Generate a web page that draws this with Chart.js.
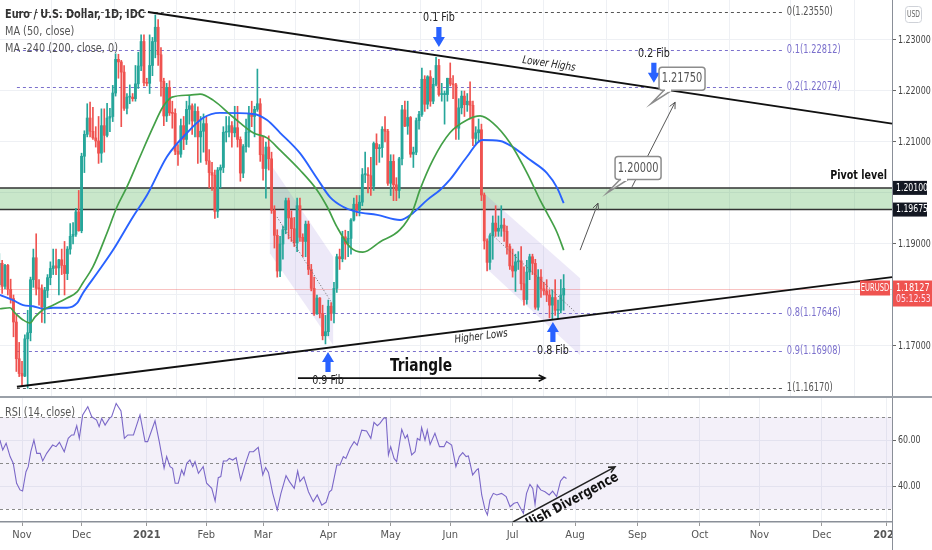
<!DOCTYPE html>
<html>
<head>
<meta charset="utf-8">
<title>EURUSD 1D</title>
<script src="https://cdn.jsdelivr.net/npm/chart.js@4.4.1/dist/chart.umd.min.js"></script>
<style>
   html, body { margin: 0; padding: 0; background: #fff; }
   #wrap { position: relative; width: 932px; height: 550px; overflow: hidden; }
   #c1 { position: absolute; left: 0; top: 0; }
   #c2 { position: absolute; left: 0; top: 398px; }
</style>
</head>
<body>
<div id="wrap">
   <canvas id="c1" width="932" height="398"></canvas>
   <canvas id="c2" width="932" height="152"></canvas>
</div>
<script>
// bar 0 = 2 Nov 2020, one bar per weekday
const firstBar = -8;
const opens = [
   1.1820,1.1862,1.1817,1.1858,1.1811,1.1793,1.1747,1.1675,1.1646,1.1641,
   1.1714,1.1726,1.1830,1.1873,1.1813,1.1812,1.1776,1.1809,1.1834,1.1852,
   1.1857,1.1853,1.1869,1.1858,1.1842,1.1890,1.1915,1.1919,1.1963,1.1926,
   1.2072,1.2115,1.2147,1.2121,1.2108,1.2102,1.2078,1.2132,1.2113,1.2147,
   1.2150,1.2196,1.2262,1.2257,1.2237,1.2166,1.2188,1.2188,1.2185,1.2214,
   1.2249,1.2297,1.2216,1.2215,1.2250,1.2297,1.2325,1.2271,1.2219,1.2151,
   1.2207,1.2157,1.2156,1.2082,1.2076,1.2132,1.2105,1.2164,1.2171,1.2141,
   1.2160,1.2110,1.2121,1.2136,1.2063,1.2040,1.2035,1.1964,1.2045,1.2050,
   1.2119,1.2120,1.2132,1.2118,1.2128,1.2105,1.2039,1.2091,1.2119,1.2155,
   1.2150,1.2164,1.2175,1.2075,1.2048,1.2090,1.2067,1.1966,1.1917,1.1847,
   1.1900,1.1928,1.1985,1.1951,1.1930,1.1902,1.1975,1.1913,1.1905,1.1939,
   1.1850,1.1813,1.1763,1.1794,1.1764,1.1720,1.1728,1.1778,1.1764,1.1813,
   1.1875,1.1871,1.1914,1.1900,1.1911,1.1947,1.1978,1.1966,1.1982,1.2036,
   1.2036,1.2034,1.2013,1.2097,1.2087,1.2089,1.2125,1.2121,1.2019,1.2062,
   1.2016,1.2005,1.2067,1.2163,1.2131,1.2148,1.2076,1.2080,1.2142,1.2154,
   1.2223,1.2174,1.2228,1.2180,1.2213,1.2250,1.2193,1.2193,1.2193,1.2225,
   1.2214,1.2212,1.2127,1.2167,1.2190,1.2173,1.2180,1.2172,1.2107,1.2118,
   1.2124,1.1996,1.1906,1.1864,1.1916,1.1941,1.1925,1.1931,1.1937,1.1925,
   1.1895,1.1857,1.1847,1.1865,1.1867,1.1822,1.1791,1.1845,1.1875,1.1862,
   1.1776,1.1835,1.1812,1.1808,1.1800,1.1780,1.1795,1.1770,1.1770,1.1800
];
const highs = [
   1.1881,1.1868,1.1860,1.1860,1.1831,1.1800,1.1760,1.1707,1.1670,1.1722,
   1.1770,1.1835,1.1890,1.1920,1.1830,1.1820,1.1815,1.1840,1.1865,1.1890,
   1.1890,1.1870,1.1890,1.1905,1.1895,1.1940,1.1942,1.1970,1.2005,1.2078,
   1.2122,1.2175,1.2178,1.2168,1.2130,1.2150,1.2165,1.2165,1.2176,1.2166,
   1.2211,1.2273,1.2272,1.2260,1.2250,1.2195,1.2212,1.2195,1.2250,1.2276,
   1.2310,1.2310,1.2225,1.2310,1.2305,1.2349,1.2340,1.2285,1.2225,1.2215,
   1.2220,1.2180,1.2165,1.2095,1.2145,1.2150,1.2180,1.2190,1.2175,1.2175,
   1.2169,1.2150,1.2155,1.2150,1.2085,1.2060,1.2045,1.2050,1.2055,1.2130,
   1.2150,1.2150,1.2140,1.2170,1.2170,1.2110,1.2095,1.2145,1.2170,1.2180,
   1.2170,1.2243,1.2185,1.2110,1.2100,1.2112,1.2080,1.1975,1.1928,1.1915,
   1.1935,1.1990,1.1990,1.1965,1.1952,1.1990,1.1990,1.1920,1.1945,1.1945,
   1.1860,1.1835,1.1800,1.1795,1.1780,1.1760,1.1790,1.1785,1.1825,1.1880,
   1.1890,1.1925,1.1927,1.1925,1.1950,1.1990,1.1995,1.1995,1.2048,1.2080,
   1.2050,1.2070,1.2100,1.2116,1.2095,1.2130,1.2150,1.2125,1.2075,1.2075,
   1.2030,1.2070,1.2172,1.2180,1.2180,1.2150,1.2090,1.2147,1.2160,1.2245,
   1.2230,1.2230,1.2240,1.2225,1.2266,1.2262,1.2215,1.2200,1.2225,1.2255,
   1.2230,1.2215,1.2185,1.2200,1.2200,1.2195,1.2218,1.2180,1.2130,1.2145,
   1.2135,1.2000,1.1910,1.1920,1.1955,1.1975,1.1955,1.1975,1.1950,1.1935,
   1.1900,1.1890,1.1880,1.1885,1.1895,1.1855,1.1868,1.1880,1.1880,1.1870,
   1.1850,1.1850,1.1825,1.1830,1.1810,1.1810,1.1830,1.1790,1.1830,1.1840
];
const lows = [
   1.1815,1.1803,1.1812,1.1800,1.1784,1.1718,1.1650,1.1640,1.1622,1.1640,
   1.1617,1.1710,1.1815,1.1800,1.1780,1.1746,1.1745,1.1795,1.1820,1.1840,
   1.1840,1.1800,1.1840,1.1800,1.1830,1.1880,1.1900,1.1915,1.1925,1.1922,
   1.2040,1.2110,1.2110,1.2105,1.2090,1.2058,1.2060,1.2080,1.2110,1.2120,
   1.2140,1.2190,1.2225,1.2130,1.2162,1.2155,1.2175,1.2180,1.2180,1.2205,
   1.2240,1.2210,1.2210,1.2195,1.2230,1.2265,1.2250,1.2190,1.2132,1.2140,
   1.2152,1.2127,1.2075,1.2054,1.2070,1.2085,1.2095,1.2135,1.2115,1.2110,
   1.2058,1.2060,1.2080,1.2056,1.2010,1.2005,1.1950,1.1952,1.2010,1.2040,
   1.2100,1.2110,1.2090,1.2110,1.2090,1.2023,1.2030,1.2080,1.2090,1.2130,
   1.2110,1.2160,1.2062,1.2025,1.1990,1.2045,1.1960,1.1892,1.1835,1.1836,
   1.1870,1.1920,1.1910,1.1905,1.1895,1.1885,1.1905,1.1875,1.1875,1.1840,
   1.1808,1.1760,1.1762,1.1755,1.1712,1.1704,1.1720,1.1750,1.1745,1.1805,
   1.1850,1.1865,1.1870,1.1875,1.1880,1.1945,1.1955,1.1955,1.1975,1.2020,
   1.2000,1.1995,1.2005,1.2055,1.2060,1.2070,1.2100,1.2015,1.1995,1.1985,
   1.1985,1.1990,1.2055,1.2130,1.2115,1.2070,1.2050,1.2075,1.2125,1.2150,
   1.2160,1.2165,1.2170,1.2175,1.2210,1.2190,1.2180,1.2135,1.2180,1.2210,
   1.2185,1.2105,1.2105,1.2155,1.2150,1.2160,1.2145,1.2093,1.2095,1.2100,
   1.1985,1.1890,1.1847,1.1850,1.1870,1.1915,1.1915,1.1915,1.1905,1.1880,
   1.1850,1.1835,1.1807,1.1850,1.1810,1.1780,1.1782,1.1830,1.1840,1.1772,
   1.1770,1.1795,1.1800,1.1787,1.1755,1.1752,1.1760,1.1754,1.1765,1.1770
];
const closes = [
   1.1862,1.1817,1.1858,1.1811,1.1793,1.1747,1.1675,1.1646,1.1641,1.1714,
   1.1726,1.1830,1.1873,1.1813,1.1812,1.1776,1.1809,1.1834,1.1852,1.1857,
   1.1853,1.1869,1.1858,1.1842,1.1890,1.1915,1.1919,1.1963,1.1926,1.2072,
   1.2115,1.2147,1.2121,1.2108,1.2102,1.2078,1.2132,1.2113,1.2147,1.2150,
   1.2196,1.2262,1.2257,1.2237,1.2166,1.2188,1.2188,1.2185,1.2214,1.2249,
   1.2297,1.2216,1.2215,1.2250,1.2297,1.2325,1.2271,1.2219,1.2151,1.2207,
   1.2157,1.2156,1.2082,1.2076,1.2132,1.2105,1.2164,1.2171,1.2141,1.2160,
   1.2110,1.2121,1.2136,1.2063,1.2040,1.2035,1.1964,1.2045,1.2050,1.2119,
   1.2120,1.2132,1.2118,1.2128,1.2105,1.2039,1.2091,1.2119,1.2155,1.2150,
   1.2164,1.2175,1.2075,1.2048,1.2090,1.2067,1.1966,1.1917,1.1847,1.1900,
   1.1928,1.1985,1.1951,1.1930,1.1902,1.1975,1.1913,1.1905,1.1939,1.1850,
   1.1813,1.1763,1.1794,1.1764,1.1720,1.1728,1.1778,1.1764,1.1813,1.1875,
   1.1871,1.1914,1.1900,1.1911,1.1947,1.1978,1.1966,1.1982,1.2036,1.2036,
   1.2034,1.2013,1.2097,1.2087,1.2089,1.2125,1.2121,1.2019,1.2062,1.2016,
   1.2005,1.2067,1.2163,1.2131,1.2148,1.2076,1.2080,1.2142,1.2154,1.2223,
   1.2174,1.2228,1.2180,1.2213,1.2250,1.2193,1.2193,1.2193,1.2225,1.2214,
   1.2212,1.2127,1.2167,1.2190,1.2173,1.2180,1.2172,1.2107,1.2118,1.2124,
   1.1996,1.1906,1.1864,1.1916,1.1941,1.1925,1.1931,1.1937,1.1925,1.1895,
   1.1857,1.1847,1.1865,1.1867,1.1822,1.1791,1.1845,1.1875,1.1862,1.1776,
   1.1835,1.1812,1.1808,1.1800,1.1780,1.1795,1.1770,1.1770,1.1800,1.1813
];

// moving averages (bar, price)
const ma50X = [-7.8,-4.2,-2.5,0.4,2.8,4.6,7.4,10.9,15.9,19.4,21.5,25.0,30.0,33.5,37.0,41.6,46.2,49.7,52.9,59.2,62.8,67.4,74.4,81.5,86.4,91.0,98.0,104.0,107.6,111.1,115.7,120.2,126.2,133.3,137.9,140.3,144.9,150.9,156.9,161.5,166.1,172.1,178.1,182.7,185.1,188.7,191.0];
const ma50Y = [1.1773,1.1775,1.1765,1.1751,1.1745,1.1757,1.1771,1.1780,1.1794,1.1806,1.1824,1.1855,1.1922,1.1973,1.2012,1.2071,1.2129,1.2169,1.2188,1.2192,1.2194,1.2182,1.2149,1.2118,1.2108,1.2084,1.2045,1.2006,1.1973,1.1933,1.1894,1.1884,1.1904,1.1928,1.1967,1.2006,1.2065,1.2118,1.2143,1.2151,1.2137,1.2098,1.2039,1.1986,1.1961,1.1922,1.1888];
const ma200X = [-7.8,-3.2,0.4,3.9,7.4,10.9,15.9,19.4,21.5,26.5,32.1,39.1,44.1,51.1,58.2,63.8,69.8,81.5,86.4,91.0,98.0,104.0,108.6,113.2,118.1,125.2,133.3,137.9,142.8,147.4,150.9,156.9,162.2,168.6,173.1,179.1,185.1,188.7,191.0];
const ma200Y = [1.1800,1.1790,1.1780,1.1778,1.1773,1.1775,1.1775,1.1784,1.1804,1.1843,1.1888,1.1953,1.1996,1.2071,1.2118,1.2147,1.2157,1.2155,1.2143,1.2118,1.2078,1.2029,1.1992,1.1973,1.1963,1.1957,1.1947,1.1961,1.1986,1.2006,1.2026,1.2071,1.2104,1.2102,1.2090,1.2065,1.2039,1.2010,1.1980];

// RSI(14) (bar, value)
const rsiX = [-7.8,-6.8,-5.6,-4.2,-3.1,-1.9,-0.7,0.2,1.4,2.2,3.1,4.2,5.2,6.4,7.3,8.7,10.8,12.0,13.2,14.9,16.3,17.5,18.3,19.3,20.2,21.4,23.2,24.6,26.3,27.2,28.1,29.3,30.8,31.6,33.2,34.9,36.1,37.3,39.3,41.6,43.4,44.3,46.9,48.4,50.1,51.0,52.2,53.1,54.0,55.1,56.3,57.1,58.1,59.2,60.2,61.0,62.2,63.9,65.1,66.9,68.1,69.2,70.1,71.0,72.2,73.1,74.3,75.5,77.1,78.6,80.2,81.6,83.3,84.9,85.9,86.9,88.4,90.0,91.3,93.1,94.3,96.0,97.2,
   98.0,99.4,101.0,102.7,104.1,105.7,107.2,108.4,109.2,111.0,112.1,113.3,114.2,115.7,117.1,118.2,119.8,121.5,123.0,124.1,125.3,126.2,127.7,128.4,129.2,130.0,131.2,132.1,133.9,135.1,135.9,137.4,138.6,139.4,140.3,140.9,142.1,142.9,143.9,145.6,147.2,148.8,149.7,151.5,153.0,154.2,155.4,156.6,157.4,158.9,160.3,160.9,162.1,163.3,164.1,165.0,166.2,167.4,169.1,170.7,172.1,173.5,174.7,175.8,176.8,177.9,179.1,180.1,180.9,181.7,182.9,184.4,185.9,187.1,188.5,189.9,191.1,192.0];
const rsiY = [60.0,55.7,58.6,52.8,49.9,41.2,38.3,37.8,46.2,48.4,54.9,60.0,54.2,54.2,50.9,54.2,57.8,57.1,59.0,54.9,60.7,62.2,62.2,66.2,60.7,70.9,74.5,70.1,68.7,65.8,69.4,66.5,69.4,70.1,75.9,72.6,60.7,62.2,62.2,70.9,59.3,59.3,68.3,59.3,47.7,52.8,48.4,47.7,41.2,41.2,47.0,44.8,49.9,51.3,48.4,50.6,45.5,48.4,41.2,39.0,33.5,43.6,44.1,50.9,50.9,52.0,51.3,52.3,42.6,49.1,54.9,54.9,56.8,44.8,48.0,45.9,36.8,29.6,36.8,44.5,41.9,39.0,46.5,
   41.9,44.0,37.5,33.2,36.1,31.7,32.9,37.5,38.3,49.1,49.1,52.8,52.0,56.4,59.3,57.8,64.3,63.9,60.7,67.7,66.2,67.2,69.7,69.4,53.5,57.1,52.0,50.6,64.6,60.7,62.2,53.5,54.9,60.7,59.9,65.4,59.9,64.3,58.1,62.9,57.1,57.1,59.3,57.8,48.4,52.8,54.5,52.8,53.1,44.8,47.0,47.5,36.1,29.6,27.4,33.9,36.8,36.1,36.8,35.4,31.0,32.5,32.9,30.3,28.1,36.8,40.7,38.9,32.0,40.4,38.3,37.5,36.1,37.8,35.4,42.2,44.0,43.3];

const monthIdx = [0,21,44,65,85,108,130,151,173,195,217,239,260,282,305];
const monthLbl = ['Nov','Dec','2021','Feb','Mar','Apr','May','Jun','Jul','Aug','Sep','Oct','Nov','Dec','2022'];
const priceTicks = [1.17,1.18,1.19,1.20,1.21,1.22,1.23];
const rsiTicks = [40,60];
const rsiLevels = [70,50,30];

const fibRatios = ['0','0.1','0.2','0.8','0.9','1'];
const fibPrices = [1.23550,1.22812,1.22074,1.17646,1.16908,1.16170];
const pivotLevel = 1.20100, supportLevel = 1.19675;
const lastPrice = 1.18127, countdown = '05:12:53';
const targets = [1.20000, 1.21750];

const FONT = "'Liberation Sans Narrow', 'DejaVu Sans Condensed', Roboto, sans-serif";
const UP = '#26a69a', DOWN = '#ef5350';
const xMin = -7.76, xMax = 306.77;

// drawings in chart coordinates (bar, price)
const upperLine = [[44.4,1.2355],[306.8,1.2136]];
const lowerLine = [[-1.8,1.1620],[306.8,1.1835]];
const channels = [
   {poly: [[87.4,1.2059],[109.7,1.1875],[109.7,1.1702],[87.4,1.1882]], mid: [[89.9,1.1953],[109.3,1.1784]]},
   {poly: [[163.6,1.1996],[196.8,1.1833],[196.8,1.1682],[163.6,1.1853]], mid: [[165.0,1.1922],[195.0,1.1767]]}
];
const fibMarks = [
   {txt:'0.1 Fib', bar:147.0, price:1.2286, dir:1},
   {txt:'0.2 Fib', bar:222.8, price:1.2216, dir:1},
   {txt:'0.9 Fib', bar:107.9, price:1.1688, dir:-1},
   {txt:'0.8 Fib', bar:187.2, price:1.1747, dir:-1}
];
const calloutBars = [206.3, 221.8];
const thinArrows = [[196.8,1.1888,203.1,1.1980],[215.1,1.2012,230.3,1.2178]];

function text(ctx, s, x, y, o = {}) {
   ctx.save();
   ctx.font = o.font || `11px ${FONT}`;
   ctx.fillStyle = o.color || '#222';
   ctx.textAlign = o.align || 'left';
   ctx.textBaseline = 'middle';
   ctx.translate(x, y);
   if (o.rot) ctx.rotate(o.rot);
   if (o.sx) ctx.scale(o.sx, 1);
   ctx.fillText(s, 0, 0);
   ctx.restore();
}

function fatArrow(ctx, x, tip, dir) {
   const hw = 6, sw = 2.6, hl = 10, len = 20;
   ctx.beginPath();
   ctx.moveTo(x, tip);
   ctx.lineTo(x - hw, tip - dir * hl);
   ctx.lineTo(x - sw, tip - dir * hl);
   ctx.lineTo(x - sw, tip - dir * len);
   ctx.lineTo(x + sw, tip - dir * len);
   ctx.lineTo(x + sw, tip - dir * hl);
   ctx.lineTo(x + hw, tip - dir * hl);
   ctx.closePath();
   ctx.fillStyle = '#2962ff';
   ctx.fill();
}

function thinArrow(ctx, x1, y1, x2, y2) {
   const ang = Math.atan2(y2 - y1, x2 - x1);
   ctx.beginPath();
   ctx.moveTo(x1, y1); ctx.lineTo(x2, y2);
   ctx.moveTo(x2 - 7 * Math.cos(ang - 0.45), y2 - 7 * Math.sin(ang - 0.45));
   ctx.lineTo(x2, y2);
   ctx.lineTo(x2 - 7 * Math.cos(ang + 0.45), y2 - 7 * Math.sin(ang + 0.45));
   ctx.stroke();
}

function axisTag(ctx, x, y, s, bg, w) {
   ctx.fillStyle = bg;
   ctx.fillRect(x, y - 7, w, 14);
   text(ctx, s, x + 3, y, {color: '#fff', font: `10.5px ${FONT}`, sx: 0.82});
}

// right-hand value labels, narrower than the library's own text; skip those under a tag
function axisLabels(chart, values, fmt, tags = []) {
   const {ctx, chartArea: a, scales: {y}} = chart;
   values.forEach(v => {
      const yy = y.getPixelForValue(v);
      if (tags.some(t => Math.abs(y.getPixelForValue(t) - yy) < 12)) return;
      text(ctx, fmt(v), a.right + 6, yy, {color: '#444', font: `11px ${FONT}`, sx: 0.8});
   });
}

const mainDeco = {
   id: 'mainDeco',
   beforeDatasetsDraw(chart) {
      const {ctx, chartArea: a, scales: {x, y}} = chart;
      const X = v => x.getPixelForValue(v), Y = v => y.getPixelForValue(v);
      ctx.save();
      // pivot zone
      ctx.fillStyle = 'rgba(76,175,80,0.30)';
      ctx.fillRect(a.left, Y(pivotLevel), a.width, Y(supportLevel) - Y(pivotLevel));
      // falling channels
      ctx.fillStyle = 'rgba(140,120,210,0.16)';
      channels.forEach(c => {
         ctx.beginPath();
         c.poly.forEach(([b, p], k) => k ? ctx.lineTo(X(b), Y(p)) : ctx.moveTo(X(b), Y(p)));
         ctx.closePath();
         ctx.fill();
      });
      // current price line
      ctx.strokeStyle = 'rgba(239,83,80,0.35)';
      ctx.lineWidth = 1;
      ctx.beginPath(); ctx.moveTo(a.left, Math.round(Y(lastPrice)) + 0.5); ctx.lineTo(a.right, Math.round(Y(lastPrice)) + 0.5); ctx.stroke();
      // fib levels
      ctx.setLineDash([3, 3]);
      fibPrices.forEach((p, k) => {
         const edge = k === 0 || k === fibPrices.length - 1;
         const col = edge ? '#555' : '#7b70cc';
         const yy = Math.round(Y(p)) + 0.5;
         ctx.strokeStyle = col;
         ctx.beginPath(); ctx.moveTo(X(-1.8), yy); ctx.lineTo(X(268), yy); ctx.stroke();
         text(ctx, `${fibRatios[k]}(${p.toFixed(5)})`, X(269.7), yy, {color: col, font: `11.5px ${FONT}`, sx: 0.8});
      });
      ctx.setLineDash([]);
      // pivot / support lines
      ctx.strokeStyle = '#333';
      ctx.lineWidth = 1.5;
      [pivotLevel, supportLevel].forEach(p => {
         ctx.beginPath(); ctx.moveTo(a.left, Y(p)); ctx.lineTo(a.right, Y(p)); ctx.stroke();
      });
      ctx.restore();
   },
   afterDatasetsDraw(chart) {
      const {ctx, chartArea: a, scales: {x, y}} = chart;
      const X = v => x.getPixelForValue(v), Y = v => y.getPixelForValue(v);
      ctx.save();
      // triangle
      ctx.strokeStyle = '#111';
      ctx.lineWidth = 2;
      [upperLine, lowerLine].forEach(l => {
         ctx.beginPath(); ctx.moveTo(X(l[0][0]), Y(l[0][1])); ctx.lineTo(X(l[1][0]), Y(l[1][1])); ctx.stroke();
      });
      // channel mid lines
      ctx.strokeStyle = '#666';
      ctx.lineWidth = 1;
      ctx.setLineDash([1, 2]);
      channels.forEach(c => {
         ctx.beginPath(); ctx.moveTo(X(c.mid[0][0]), Y(c.mid[0][1])); ctx.lineTo(X(c.mid[1][0]), Y(c.mid[1][1])); ctx.stroke();
      });
      ctx.setLineDash([]);
      // trend line labels
      const angUp = Math.atan2(Y(upperLine[1][1]) - Y(upperLine[0][1]), X(upperLine[1][0]) - X(upperLine[0][0]));
      const angLo = Math.atan2(Y(lowerLine[1][1]) - Y(lowerLine[0][1]), X(lowerLine[1][0]) - X(lowerLine[0][0]));
      const onLine = (l, b) => l[0][1] + (b - l[0][0]) * (l[1][1] - l[0][1]) / (l[1][0] - l[0][0]);
      text(ctx, 'Lower Highs', X(185.8), Y(onLine(upperLine, 185.8)) - 8, {font: `italic 11px ${FONT}`, align: 'center', rot: angUp, sx: 0.88});
      text(ctx, 'Higher Lows', X(161.9), Y(onLine(lowerLine, 161.9)) + 8, {font: `italic 11px ${FONT}`, align: 'center', rot: angLo, sx: 0.88});
      // triangle label and arrow
      text(ctx, 'Triangle', X(140.7), Y(1.1661), {font: `bold 18px ${FONT}`, align: 'center', color: '#111', sx: 0.85});
      ctx.strokeStyle = '#111';
      ctx.lineWidth = 1.6;
      thinArrow(ctx, X(97.3), Y(1.1637), X(184.4), Y(1.1637));
      // fib arrows
      fibMarks.forEach(m => {
         const tip = Y(m.price);
         fatArrow(ctx, X(m.bar), tip, m.dir);
         text(ctx, m.txt, X(m.bar), tip - m.dir * 29, {align: 'center', font: `12.5px ${FONT}`, color: '#222', sx: 0.85});
      });
      // thin projection arrows
      ctx.strokeStyle = '#555';
      ctx.lineWidth = 1;
      thinArrows.forEach(t => thinArrow(ctx, X(t[0]), Y(t[1]), X(t[2]), Y(t[3])));
      // target callouts
      targets.forEach((p, k) => {
         const tx = X(calloutBars[k]), ty = Y(p);
         const cx = tx + 31, cy = ty - 25, w = 46, h = 23;
         ctx.fillStyle = '#fff';
         ctx.strokeStyle = '#8c8c8c';
         ctx.lineWidth = 1.5;
         ctx.beginPath(); ctx.moveTo(cx - w / 2 + 5, cy + h / 2); ctx.lineTo(tx, ty); ctx.lineTo(cx - w / 2 + 13, cy + h / 2); ctx.closePath();
         ctx.fill(); ctx.stroke();
         ctx.beginPath(); ctx.roundRect(cx - w / 2, cy - h / 2, w, h, 3); ctx.fill(); ctx.stroke();
         ctx.fillRect(cx - w / 2 + 6, cy + h / 2 - 1.5, 6, 3);
         text(ctx, p.toFixed(5), cx, cy, {align: 'center', font: `14px ${FONT}`, color: '#555', sx: 0.78});
      });
      // pivot label
      text(ctx, 'Pivot level', a.right - 5, Y(pivotLevel) - 12, {align: 'right', font: `bold 12.5px ${FONT}`, color: '#111', sx: 0.85});
      // header
      text(ctx, 'Euro / U.S. Dollar, 1D, IDC', 5, 15, {font: `600 12px ${FONT}`, color: '#333', sx: 0.9});
      text(ctx, 'MA (50, close)', 5, 32, {font: `12px ${FONT}`, color: '#555', sx: 0.9});
      text(ctx, 'MA -240 (200, close, 0)', 5, 49, {font: `12px ${FONT}`, color: '#555', sx: 0.9});
      // price axis
      axisLabels(chart, priceTicks, v => v.toFixed(5), [pivotLevel, supportLevel, lastPrice + 0.0002]);
      axisTag(ctx, a.right + 1, Y(pivotLevel), pivotLevel.toFixed(5), '#131722', 34);
      axisTag(ctx, a.right + 1, Y(supportLevel), supportLevel.toFixed(5), '#131722', 34);
      const yl = Y(lastPrice);
      ctx.fillStyle = DOWN;
      ctx.fillRect(a.right + 1, yl - 8, 39, 26);
      text(ctx, lastPrice.toFixed(5), a.right + 4, yl, {color: '#fff', font: `11px ${FONT}`, sx: 0.82});
      text(ctx, countdown, a.right + 4, yl + 11, {color: '#fde', font: `10.5px ${FONT}`, sx: 0.82});
      ctx.fillRect(a.right - 32, yl - 8, 30, 15);
      text(ctx, 'EURUSD', a.right - 17, yl - 0.5, {color: '#fff', font: `10px ${FONT}`, align: 'center', sx: 0.75});
      // currency badge
      ctx.strokeStyle = '#cfd2d8';
      ctx.lineWidth = 1;
      ctx.beginPath(); ctx.roundRect(905.5, 6.5, 16, 16, 3); ctx.stroke();
      text(ctx, 'USD', 913.5, 14.5, {align: 'center', font: `9px ${FONT}`, color: '#666', sx: 0.75});
      // pane separator
      ctx.fillStyle = '#9aa0a8';
      ctx.fillRect(0, 396, 932, 2);
      ctx.restore();
   }
};

const bodies = closes.map((c, k) => ({x: firstBar + k, y: [opens[k], c]}));
const wicks = closes.map((c, k) => ({x: firstBar + k, y: [lows[k], highs[k]]}));
const barCol = closes.map((c, k) => c >= opens[k] ? UP : DOWN);

new Chart(document.getElementById('c1'), {
   type: 'bar',
   data: {
      datasets: [
         {type: 'line', data: ma50X.map((v, k) => ({x: v, y: ma50Y[k]})), borderColor: '#43a047', borderWidth: 1.7,
          pointRadius: 0, cubicInterpolationMode: 'monotone', order: 0},
         {type: 'line', data: ma200X.map((v, k) => ({x: v, y: ma200Y[k]})), borderColor: '#2962ff', borderWidth: 1.9,
          pointRadius: 0, cubicInterpolationMode: 'monotone', order: 0},
         {data: bodies, backgroundColor: barCol, barThickness: 2.2, minBarLength: 1, grouped: false, borderWidth: 0, order: 1},
         {data: wicks, backgroundColor: barCol, barThickness: 1, grouped: false, borderWidth: 0, order: 2}
      ]
   },
   options: {
      responsive: false,
      animation: false,
      layout: {padding: 0},
      plugins: {legend: {display: false}, tooltip: {enabled: false}},
      scales: {
         x: {
            type: 'linear', min: xMin, max: xMax, offset: false,
            afterBuildTicks: s => { s.ticks = monthIdx.map(v => ({value: v})); },
            ticks: {display: false},
            grid: {color: '#eef0f4', drawTicks: false},
            border: {display: false},
            afterFit: s => { s.height = 0; s.paddingLeft = 0; s.paddingRight = 0; }
         },
         y: {
            position: 'right', min: 1.15980, max: 1.23784,
            afterBuildTicks: s => { s.ticks = priceTicks.map(v => ({value: v})); },
            ticks: {display: false},
            grid: {color: '#eef0f4', tickColor: '#666', tickLength: 4},
            border: {color: '#8a8f98'},
            afterFit: s => { s.width = 40; s.paddingTop = 0; s.paddingBottom = 0; }
         }
      }
   },
   plugins: [mainDeco]
});

const rsiDeco = {
   id: 'rsiDeco',
   beforeDatasetsDraw(chart) {
      const {ctx, chartArea: a, scales: {y}} = chart;
      ctx.save();
      const y70 = y.getPixelForValue(70), y30 = y.getPixelForValue(30);
      ctx.fillStyle = 'rgba(126,87,194,0.09)';
      ctx.fillRect(a.left, y70, a.width, y30 - y70);
      ctx.strokeStyle = '#8a8a8a';
      ctx.lineWidth = 1;
      ctx.setLineDash([3, 3]);
      rsiLevels.forEach(v => {
         const yy = Math.round(y.getPixelForValue(v)) + 0.5;
         ctx.beginPath(); ctx.moveTo(a.left, yy); ctx.lineTo(a.right, yy); ctx.stroke();
      });
      ctx.restore();
   },
   afterDatasetsDraw(chart) {
      const {ctx, chartArea: a, scales: {x, y}} = chart;
      ctx.save();
      text(ctx, 'RSI (14, close)', 5, 15, {font: `12px ${FONT}`, color: '#555', sx: 0.9});
      axisLabels(chart, rsiTicks, v => v.toFixed(2));
      ctx.beginPath(); ctx.rect(a.left, a.top, a.width, a.height); ctx.clip();
      const x1 = x.getPixelForValue(173.1), y1 = y.getPixelForValue(24.35);
      const x2 = x.getPixelForValue(209.1), y2 = y.getPixelForValue(48.3);
      ctx.strokeStyle = '#222';
      ctx.lineWidth = 1.5;
      thinArrow(ctx, x1, y1, x2, y2);
      text(ctx, 'Bullish Divergence', x.getPixelForValue(191.5), y.getPixelForValue(31.9),
         {font: `bold 14px ${FONT}`, align: 'center', color: '#111', rot: Math.atan2(y2 - y1, x2 - x1), sx: 0.9});
      ctx.restore();
   },
   afterDraw(chart) {
      const {ctx, chartArea: a} = chart;
      ctx.save();
      ctx.fillStyle = '#fff';
      ctx.fillRect(a.right + 1, a.bottom + 1, 40, 40);
      ctx.fillStyle = '#8a8f98';
      ctx.fillRect(a.right, 0, 1, chart.height);
      ctx.restore();
   }
};

new Chart(document.getElementById('c2'), {
   type: 'line',
   data: {
      datasets: [{data: rsiX.map((v, k) => ({x: v, y: rsiY[k]})), borderColor: '#7b68c8', borderWidth: 1.1, pointRadius: 0, tension: 0}]
   },
   options: {
      responsive: false,
      animation: false,
      layout: {padding: 0},
      plugins: {legend: {display: false}, tooltip: {enabled: false}},
      scales: {
         x: {
            type: 'linear', min: xMin, max: xMax, offset: false,
            afterBuildTicks: s => { s.ticks = monthIdx.map(v => ({value: v})); },
            ticks: {
               callback: (v, k) => monthLbl[k], color: '#555', maxRotation: 0, autoSkip: false, padding: 3,
               font: c => ({family: FONT, size: 11, weight: /^20/.test(monthLbl[c.index]) ? 'bold' : 'normal'})
            },
            grid: {color: '#eef0f4', tickColor: '#999', tickLength: 4},
            border: {color: '#8a8f98', width: 1.5},
            afterFit: s => { s.height = 28; s.paddingLeft = 0; s.paddingRight = 0; }
         },
         y: {
            position: 'right', min: 24.35, max: 78.26,
            afterBuildTicks: s => { s.ticks = rsiTicks.map(v => ({value: v})); },
            ticks: {display: false},
            grid: {color: '#eef0f4', tickColor: '#666', tickLength: 4},
            border: {color: '#8a8f98'},
            afterFit: s => { s.width = 40; s.paddingTop = 0; s.paddingBottom = 0; }
         }
      }
   },
   plugins: [rsiDeco]
});
</script>
</body>
</html>
